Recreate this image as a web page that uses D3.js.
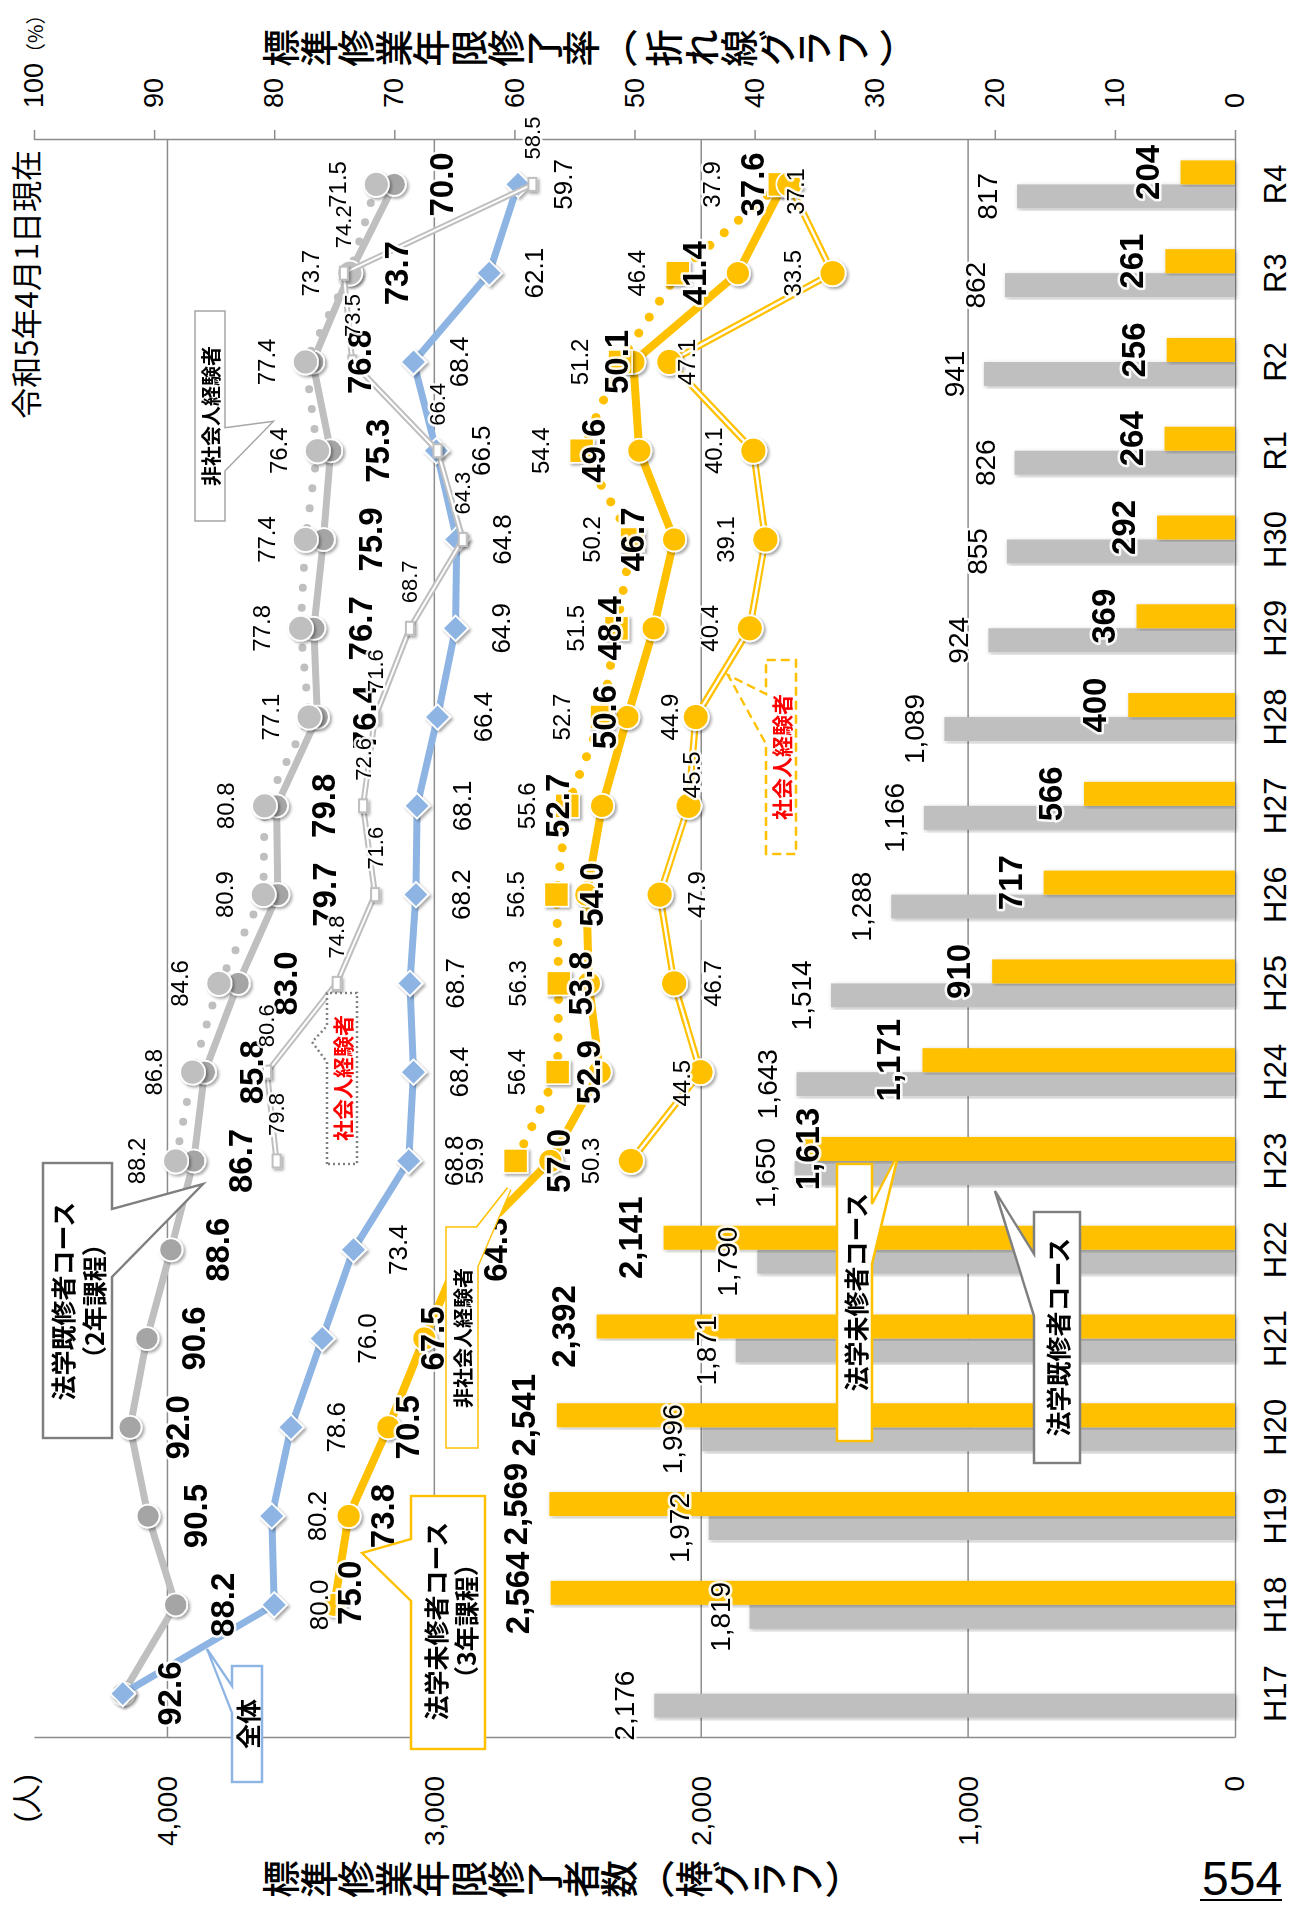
<!DOCTYPE html>
<html lang="ja">
<head>
<meta charset="utf-8">
<title>標準修業年限修了者数・修了率</title>
<script src="https://cdn.jsdelivr.net/npm/d3@7"></script>
<style>
  html, body { margin: 0; padding: 0; background: #fff; }
  svg { display: block; }
</style>
</head>
<body>
<div id="chart"></div>
<script>
// ---- data ----------------------------------------------------------------
const years = ["H17","H18","H19","H20","H21","H22","H23","H24","H25","H26","H27","H28","H29","H30","R1","R2","R3","R4"];

// 標準修業年限修了者数（人）
const kishuCount = [2176,1819,1972,1996,1871,1790,1650,1643,1514,1288,1166,1089,924,855,826,941,862,817];
const mishuCount = [null,2564,2569,2541,2392,2141,1613,1171,910,717,566,400,369,292,264,256,261,204];

// 標準修業年限修了率（%）
const rateAll            = [92.6,80.0,80.2,78.6,76.0,73.4,68.8,68.4,68.7,68.2,68.1,66.4,64.9,64.8,66.5,68.4,62.1,59.7];
const rateKishu          = [92.6,88.2,90.5,92.0,90.6,88.6,86.7,85.8,83.0,79.7,79.8,76.4,76.7,75.9,75.3,76.8,73.7,70.0];
const rateKishuNonWorker = [null,null,null,null,null,null,88.2,86.8,84.6,80.9,80.8,77.1,77.8,77.4,76.4,77.4,73.7,71.5];
const rateKishuWorker    = [null,null,null,null,null,null,79.8,80.6,74.8,71.6,72.6,71.6,68.7,64.3,66.4,73.5,74.2,58.5];
const rateMishu          = [null,75.0,73.8,70.5,67.5,64.3,57.0,52.9,53.8,54.0,52.7,50.6,48.4,46.7,49.6,50.1,41.4,37.6];
const rateMishuNonWorker = [null,null,null,null,null,null,59.9,56.4,56.3,56.5,55.6,52.7,51.5,50.2,54.4,51.2,46.4,37.9];
const rateMishuWorker    = [null,null,null,null,null,null,50.3,44.5,46.7,47.9,45.5,44.9,40.4,39.1,40.1,47.1,33.5,37.1];

const countTicks = [0,1000,2000,3000,4000];
const rateTicks  = [0,10,20,30,40,50,60,70,80,90,100];

// ---- layout --------------------------------------------------------------
// The chart is laid out in an unrotated frame (width = page height) and then
// turned a quarter turn counter-clockwise onto the portrait page.
const PAGE_W = 1293, PAGE_H = 1907;
const plotLeft = 169, plotRight = 1767;   // category direction
const plotTop = 34, plotBottom = 1235;    // value direction

const NUM = '"Liberation Sans", Arial, Helvetica, sans-serif';
const JP  = '"Noto Sans CJK JP", "Noto Sans JP", sans-serif';

const GRID = "#8c8c8c";
const GRAY_BAR = "#BFBFBF", YELLOW = "#FFC000", BLUE = "#8DB4E2";

const x = d3.scaleBand().domain(years).range([plotLeft, plotRight]).paddingInner(0).paddingOuter(0);
const groupW = 48;
const xSub = d3.scaleBand().domain(["kishu","mishu"]).range([0, groupW]);
const groupOffset = (x.bandwidth() - groupW) / 2;
const cx = y => x(y) + x.bandwidth() / 2;

const yCount = d3.scaleLinear().domain([0, 4500]).range([plotBottom, plotTop]);
const yRate  = d3.scaleLinear().domain([0, 100]).range([plotBottom, plotTop]);

const svg = d3.select("#chart").append("svg")
  .attr("width", PAGE_W).attr("height", PAGE_H)
  .attr("viewBox", `0 0 ${PAGE_W} ${PAGE_H}`);

const defs = svg.append("defs");
defs.append("filter").attr("id", "mkShadow")
  .attr("x", "-60%").attr("y", "-60%").attr("width", "220%").attr("height", "220%")
  .append("feDropShadow").attr("dx", -2).attr("dy", 2).attr("stdDeviation", 1.6)
  .attr("flood-color", "#000").attr("flood-opacity", 0.35);
defs.append("filter").attr("id", "barShadow")
  .attr("x", "-10%").attr("y", "-40%").attr("width", "120%").attr("height", "180%")
  .append("feDropShadow").attr("dx", -1.5).attr("dy", 1.5).attr("stdDeviation", 2)
  .attr("flood-color", "#000").attr("flood-opacity", 0.28);

const g = svg.append("g").attr("transform", `translate(0,${PAGE_H}) rotate(-90)`);

function halo(sel, w = 5) {
  sel.attr("stroke", "#fff").attr("stroke-width", w).attr("stroke-linejoin", "round")
     .attr("stroke-opacity", 0.9).attr("paint-order", "stroke");
}

// ---- gridlines -----------------------------------------------------------
g.append("g").selectAll("line")
  .data(countTicks.filter(t => t > 0)).join("line")
  .attr("x1", plotLeft).attr("x2", plotRight)
  .attr("y1", d => yCount(d)).attr("y2", d => yCount(d))
  .attr("stroke", GRID).attr("stroke-width", 1.5);

// ---- axes ----------------------------------------------------------------
function styleAxis(sel, size) {
  sel.select(".domain").attr("stroke", GRID).attr("stroke-width", 1.5);
  sel.selectAll(".tick line").attr("stroke", GRID).attr("stroke-width", 1.5);
  sel.selectAll("text").attr("font-size", size).attr("font-family", NUM).attr("fill", "#000");
}

g.append("g").attr("transform", `translate(${plotLeft},0)`)
  .call(d3.axisLeft(yCount).tickValues(countTicks).tickFormat(d3.format(","))
        .tickSize(0).tickPadding(38).tickSizeOuter(0))
  .call(s => styleAxis(s, 28));

const rateAxis = g.append("g").attr("transform", `translate(${plotRight},0)`)
  .call(d3.axisRight(yRate).tickValues(rateTicks)
        .tickSize(10).tickPadding(22).tickSizeOuter(0))
  .call(s => styleAxis(s, 27));
// unit appended to the top tick
rateAxis.selectAll(".tick text").filter(d => d === 100)
  .append("tspan").attr("font-size", 20).attr("font-family", JP).text("（%）");

g.append("g").attr("transform", `translate(0,${plotBottom})`)
  .call(d3.axisBottom(x).tickSize(0).tickPadding(29).tickSizeOuter(0))
  .call(s => styleAxis(s, 31));

// unit of the count axis
g.append("text").attr("x", plotLeft - 36).attr("y", plotTop - 7).attr("dy", "0.32em")
  .attr("text-anchor", "end").attr("font-family", NUM).attr("font-size", 29).text("(人)");

// axis titles, set vertically
g.append("text").attr("x", 1859).attr("y", 262)
  .style("writing-mode", "vertical-rl")
  .attr("font-family", JP).attr("font-weight", 500).attr("font-size", 37.5)
  .text("標準修業年限修了率（ 折れ線グラフ ）");
g.append("text").attr("x", 28).attr("y", 262)
  .style("writing-mode", "vertical-rl")
  .attr("font-family", JP).attr("font-weight", 500).attr("font-size", 37.5)
  .text("標準修業年限修了者数（棒グラフ）");

g.append("text").attr("x", plotRight - 10).attr("y", 24).attr("dominant-baseline", "central")
  .attr("text-anchor", "end").attr("font-family", JP).attr("font-size", 31)
  .text("令和5年4月1日現在");

// ---- bars ----------------------------------------------------------------
const barData = [];
years.forEach((yr, i) => {
  if (kishuCount[i] != null) barData.push({ yr, key: "kishu", v: kishuCount[i] });
  if (mishuCount[i] != null) barData.push({ yr, key: "mishu", v: mishuCount[i] });
});
const barColor = { kishu: GRAY_BAR, mishu: YELLOW };

g.append("g").selectAll("rect").data(barData).join("rect")
  .attr("x", d => x(d.yr) + groupOffset + xSub(d.key))
  .attr("width", xSub.bandwidth())
  .attr("y", d => yCount(d.v))
  .attr("height", d => plotBottom - yCount(d.v))
  .attr("fill", d => barColor[d.key])
  .attr("filter", "url(#barShadow)");

// ---- rate lines ----------------------------------------------------------
const lineSeries = [
  { name: "既修全体",     values: rateKishu,          kind: "solid",  color: GRAY_BAR, width: 7,
    marker: "circle", r: 11.5, fill: "#A5A5A5",
    label: { dv: 47, size: 33, weight: "bold" } },
  { name: "既修非社会人", values: rateKishuNonWorker, kind: "dotted", color: GRAY_BAR, width: 8, gap: 20,
    marker: "circle", r: 12.5, fill: "#BFBFBF",
    label: { dv: -39, size: 24 } },
  { name: "全体",         values: rateAll,            kind: "solid",  color: BLUE, width: 7,
    marker: "diamond", fill: BLUE,
    label: { dv: 45, size: 26 }, noLabel: ["H17"] },
  { name: "既修社会人",   values: rateKishuWorker,    kind: "double", color: GRAY_BAR, width: 6, inner: 2,
    marker: "tab",
    label: { du: 25, anchor: "start", size: 22 } },
  { name: "未修全体",     values: rateMishu,          kind: "solid",  color: YELLOW, width: 8,
    marker: "circle", r: 12, fill: YELLOW,
    label: { dv: 0, size: 33, weight: "bold" } },
  { name: "未修非社会人", values: rateMishuNonWorker, kind: "dotted", color: YELLOW, width: 9, gap: 19,
    marker: "square", fill: YELLOW,
    label: { dv: -41, size: 24 } },
  { name: "未修社会人",   values: rateMishuWorker,    kind: "double", color: YELLOW, width: 7, inner: 2.5,
    marker: "circle", r: 13, fill: YELLOW,
    label: { dv: -40, size: 24 } },
];

// individual label placements [du, dv] where the default spot is crowded
const labelPlace = {
  "未修全体": { H18: [12, 15], H19: [0, 34], H20: [0, 19], H21: [0, 8], H22: [0, 33], H23: [0, 8],
               H24: [0, -11], H25: [0, -8], H26: [0, 5], H27: [0, -45], H28: [0, -23], H29: [0, -44],
               H30: [0, -42], R1: [0, -46], R2: [0, -17], R3: [0, -43], R4: [0, -31] },
  "未修非社会人": { R4: [0, -68] },
  "未修社会人": { H24: [-11, -19], H25: [0, 38], H26: [0, 37], H27: [31, 3], H28: [0, -26],
                 R2: [0, 17], R4: [-7, 6] },
};
// bar labels moved off their default spot (shift along the value direction)
const barLabelShift = { "mishu:H23": 36 };

const lineGen = d3.line().defined(d => d.v != null).x(d => cx(d.yr)).y(d => yRate(d.v));
const linesG = g.append("g");

lineSeries.forEach(s => {
  const pts = years.map((yr, i) => ({ yr, v: s.values[i] }));
  const sg = linesG.append("g");
  const path = sg.append("path").datum(pts).attr("d", lineGen)
    .attr("fill", "none").attr("stroke", s.color).attr("stroke-width", s.width)
    .attr("stroke-linejoin", "round");
  if (s.kind === "dotted") {
    path.attr("stroke-linecap", "round").attr("stroke-dasharray", `0 ${s.gap}`);
  } else if (s.kind === "double") {
    sg.append("path").datum(pts).attr("d", lineGen)
      .attr("fill", "none").attr("stroke", "#fff").attr("stroke-width", s.inner)
      .attr("stroke-linejoin", "round");
  } else {
    path.attr("stroke-linecap", "round");
  }

  const valid = pts.filter(d => d.v != null);
  const mk = sg.append("g").attr("filter", "url(#mkShadow)");
  if (s.marker === "circle") {
    mk.selectAll("circle").data(valid).join("circle")
      .attr("cx", d => cx(d.yr)).attr("cy", d => yRate(d.v)).attr("r", s.r)
      .attr("fill", s.fill).attr("stroke", "#fff").attr("stroke-width", 1.8);
  } else if (s.marker === "diamond") {
    const sym = d3.symbol(d3.symbolSquare, 18 * 18);
    mk.selectAll("path").data(valid).join("path")
      .attr("d", sym)
      .attr("transform", d => `translate(${cx(d.yr)},${yRate(d.v)}) rotate(45)`)
      .attr("fill", s.fill).attr("stroke", "#fff").attr("stroke-width", 1.8);
  } else if (s.marker === "square") {
    mk.selectAll("rect").data(valid).join("rect")
      .attr("x", d => cx(d.yr) - 12).attr("y", d => yRate(d.v) - 12)
      .attr("width", 24).attr("height", 24)
      .attr("fill", s.fill).attr("stroke", "#fff").attr("stroke-width", 1.5);
  } else if (s.marker === "tab") {
    mk.selectAll("rect").data(valid).join("rect")
      .attr("x", d => cx(d.yr) - 6.5).attr("y", d => yRate(d.v) - 4)
      .attr("width", 13).attr("height", 8)
      .attr("fill", "#fff").attr("stroke", "#BFBFBF").attr("stroke-width", 2);
  }
  s._pts = valid;
});

// ---- value labels --------------------------------------------------------
const labelsG = g.append("g");

// bar labels sit just beyond the end of each bar
labelsG.selectAll("text.bar").data(barData).join("text")
  .attr("class", "bar")
  .attr("x", d => x(d.yr) + groupOffset + xSub(d.key) + xSub.bandwidth() / 2)
  .attr("y", d => yCount(d.v) - (d.key === "mishu" ? 22 : 20) + (barLabelShift[`${d.key}:${d.yr}`] || 0))
  .attr("text-anchor", "middle")
  .attr("font-family", NUM)
  .attr("font-size", d => d.key === "mishu" ? 33 : 28)
  .attr("font-weight", d => d.key === "mishu" ? "bold" : "normal")
  .attr("fill", "#000")
  .text(d => d3.format(",")(d.v))
  .call(halo);

lineSeries.forEach(s => {
  const place = labelPlace[s.name] || {};
  const skip = s.noLabel || [];
  labelsG.append("g").selectAll("text").data(s._pts.filter(d => !skip.includes(d.yr))).join("text")
    .attr("x", d => cx(d.yr) + (place[d.yr] ? place[d.yr][0] : (s.label.du || 0)))
    .attr("y", d => yRate(d.v) + (place[d.yr] ? place[d.yr][1] : (s.label.dv || 0)))
    .attr("dominant-baseline", "central")
    .attr("text-anchor", s.label.anchor || "middle")
    .attr("font-family", NUM)
    .attr("font-size", s.label.size)
    .attr("font-weight", s.label.weight || "normal")
    .attr("fill", "#000")
    .text(d => d.v.toFixed(1))
    .call(halo);
});

// ---- callouts ------------------------------------------------------------
// box: [u0, u1, v0, v1] in the unrotated frame; the pointer leaves from one side
const callouts = [
  { box: [469, 744, 43, 112], side: "bottom", base: [630, 698], tip: [723, 203],
    stroke: "#7f7f7f", lines: ["法学既修者コース", "（2年課程）"], tu: 606, tv: [62, 93], size: 25 },
  { box: [1388, 1594, 197, 223], side: "bottom", base: [1437, 1477], tip: [1483, 268],
    stroke: "#a6a6a6", double: true, lines: ["非社会人経験者"], tu: 1491, tv: [210], size: 20 },
  { box: [743, 914, 327, 357], side: "top", base: [845, 881], tip: [865, 312],
    stroke: "#7f7f7f", dash: "2 3", lines: ["社会人経験者"], tu: 829, tv: [342], size: 21, color: "#ff0000" },
  { box: [125, 241, 232, 262], side: "top", base: [194, 221], tip: [258, 207],
    stroke: BLUE, lines: ["全体"], tu: 183, tv: [247], size: 25 },
  { box: [158, 411, 411, 485], side: "top", base: [306, 368], tip: [354, 362],
    stroke: YELLOW, lines: ["法学未修者コース", "（3年課程）"], tu: 286, tv: [435, 465], size: 25 },
  { box: [461, 678, 448, 476], side: "bottom", base: [641, 676], tip: [718, 509],
    stroke: YELLOW, double: true, lines: ["非社会人経験者"], tu: 569, tv: [462], size: 20 },
  { box: [1053, 1247, 766, 796], side: "top", base: [1163, 1213], tip: [1232, 728],
    stroke: YELLOW, dash: "9 5", lines: ["社会人経験者"], tu: 1150, tv: [781], size: 21, color: "#ff0000" },
  { box: [466, 743, 837, 872], side: "bottom", base: [643, 703], tip: [755, 899],
    stroke: YELLOW, lines: ["法学未修者コース"], tu: 615, tv: [855], size: 25 },
  { box: [444, 695, 1034, 1080], side: "top", base: [591, 653], tip: [716, 995],
    stroke: "#7f7f7f", lines: ["法学既修者コース"], tu: 570, tv: [1057], size: 25 },
];

function calloutPath(c) {
  const [u0, u1, v0, v1] = c.box, [b0, b1] = c.base, [tu, tv] = c.tip;
  const p = d3.path();
  p.moveTo(u0, v0);
  if (c.side === "top") { p.lineTo(b0, v0); p.lineTo(tu, tv); p.lineTo(b1, v0); }
  p.lineTo(u1, v0);
  p.lineTo(u1, v1);
  if (c.side === "bottom") { p.lineTo(b1, v1); p.lineTo(tu, tv); p.lineTo(b0, v1); }
  p.lineTo(u0, v1);
  p.closePath();
  return p.toString();
}

const calloutG = g.append("g");
callouts.forEach(c => {
  const cg = calloutG.append("g");
  const d = calloutPath(c);
  if (c.double) {
    cg.append("path").attr("d", d).attr("fill", "#fff").attr("stroke", c.stroke)
      .attr("stroke-width", 5.5).attr("stroke-linejoin", "miter");
    cg.append("path").attr("d", d).attr("fill", "#fff").attr("stroke", "#fff")
      .attr("stroke-width", 2.5).attr("stroke-linejoin", "miter");
  } else {
    cg.append("path").attr("d", d).attr("fill", "#fff").attr("stroke", c.stroke)
      .attr("stroke-width", 2.4).attr("stroke-dasharray", c.dash || null)
      .attr("stroke-linejoin", "miter");
  }
  c.lines.forEach((t, k) => {
    cg.append("text").attr("x", c.tu).attr("y", c.tv[k])
      .attr("dominant-baseline", "central").attr("text-anchor", "middle")
      .attr("font-family", JP).attr("font-weight", "bold").attr("font-size", c.size)
      .attr("fill", c.color || "#000").text(t);
  });
});

// ---- page number (upright) -----------------------------------------------
svg.append("text").attr("x", 1202).attr("y", 1895)
  .attr("font-family", NUM).attr("font-size", 48).attr("fill", "#000").text("554");
svg.append("line").attr("x1", 1200).attr("x2", 1282).attr("y1", 1900).attr("y2", 1900)
  .attr("stroke", "#000").attr("stroke-width", 2);
</script>
</body>
</html>
